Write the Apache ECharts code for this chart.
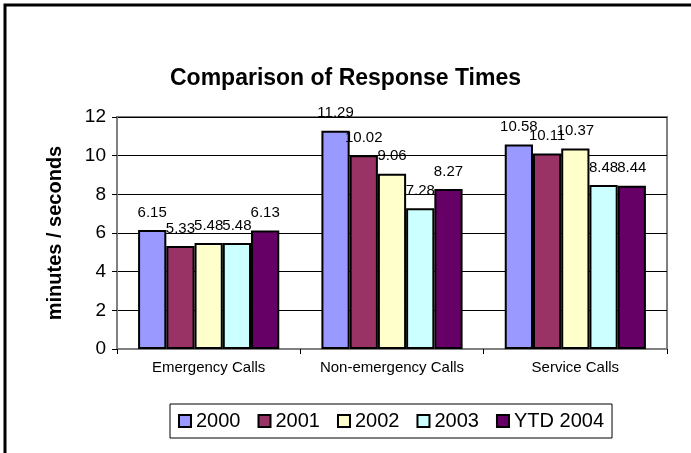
<!DOCTYPE html>
<html><head><meta charset="utf-8">
<script src="https://cdn.jsdelivr.net/npm/echarts@6/dist/echarts.min.js"></script>
<style>html,body{margin:0;padding:0;background:#fff}#c{width:691px;height:453px}</style>
</head><body><div id="c"></div>
<script>
var categories = ['Emergency Calls', 'Non-emergency Calls', 'Service Calls'];
var seriesNames = ['2000', '2001', '2002', '2003', 'YTD 2004'];
var v2000 = [6.15, 11.29, 10.58];
var v2001 = [5.33, 10.02, 10.11];
var v2002 = [5.48, 9.06, 10.37];
var v2003 = [5.48, 7.28, 8.48];
var vYTD2004 = [6.13, 8.27, 8.44];
var yTicks = [0, 2, 4, 6, 8, 10, 12];

var colors = ['#9999FF', '#993366', '#FFFFCC', '#CCFFFF', '#660066'];
var values = [v2000, v2001, v2002, v2003, vYTD2004];
var font = 'Liberation Sans, Arial, sans-serif';

var chart = echarts.init(document.getElementById('c'), null, {renderer: 'canvas'});
chart.setOption({
  animation: false,
  backgroundColor: '#fff',
  title: {
    text: 'Comparison of Response Times',
    left: 'center', top: 62,
    textStyle: {fontFamily: font, fontSize: 23, fontWeight: 'bold', color: '#000'}
  },
  graphic: [{
    type: 'rect', shape: {x: 5, y: 5, width: 720, height: 480},
    style: {fill: 'none', stroke: '#000', lineWidth: 3}, z: 100
  }],
  legend: {
    data: seriesNames,
    left: 170, top: 404,
    icon: 'rect',
    itemWidth: 12, itemHeight: 12, itemGap: 17,
    padding: [7, 8, 7, 8],
    borderColor: '#000', borderWidth: 1,
    textStyle: {fontFamily: font, fontSize: 20, color: '#000'},
    itemStyle: {borderColor: '#000', borderWidth: 2}
  },
  grid: {left: 117, right: 24, top: 117, bottom: 104, show: true, borderColor: '#808080', borderWidth: 2, containLabel: false},
  xAxis: {
    type: 'category', data: categories,
    axisLine: {lineStyle: {color: '#808080', width: 2}},
    axisTick: {show: true, length: 5, lineStyle: {color: '#000'}},
    axisLabel: {interval: 0, hideOverlap: false, fontFamily: font, fontSize: 15, color: '#000', margin: 11}
  },
  yAxis: {
    type: 'value', min: yTicks[0], max: yTicks[yTicks.length - 1], interval: 2,
    name: 'minutes / seconds', nameLocation: 'middle', nameGap: 52,
    nameTextStyle: {fontFamily: font, fontSize: 20, fontWeight: 'bold', color: '#000'},
    axisLine: {show: true, lineStyle: {color: '#808080', width: 2}},
    axisTick: {show: true, length: 5, lineStyle: {color: '#000'}},
    axisLabel: {fontFamily: font, fontSize: 19, color: '#000', margin: 11},
    splitLine: {lineStyle: {color: '#000', width: 1}}
  },
  series: seriesNames.map(function (n, i) {
    return {
      name: n, type: 'bar', data: values[i],
      barGap: '0%', barCategoryGap: '23%',
      itemStyle: {color: colors[i], borderColor: '#000', borderWidth: 2},
      label: {show: true, position: 'top', distance: 10, fontFamily: font, fontSize: 15, color: '#000'}
    };
  })
});
</script></body></html>
